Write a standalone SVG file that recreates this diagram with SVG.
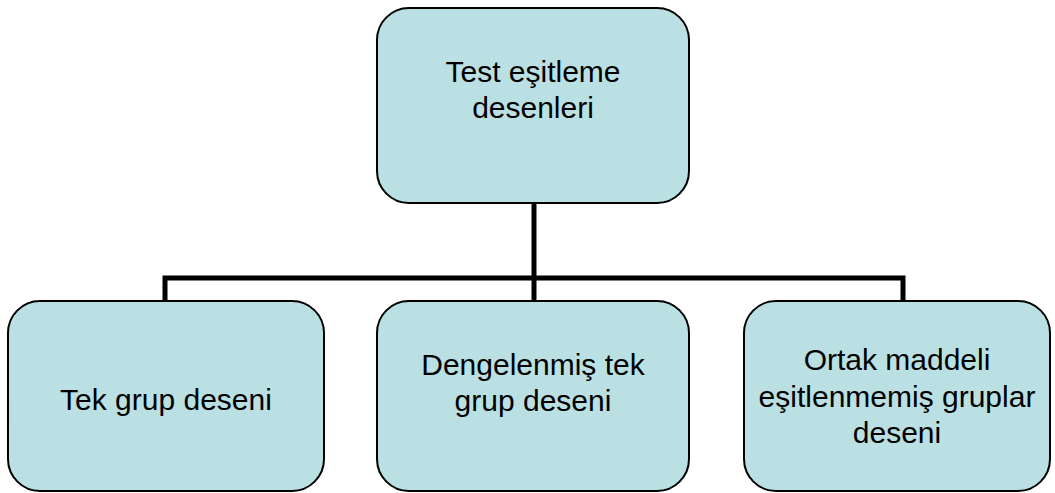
<svg xmlns="http://www.w3.org/2000/svg" width="1055" height="493" viewBox="0 0 1055 493">
<style>
.box{fill:#BAE0E3;stroke:#000;stroke-width:2}
.lbl{font-family:"Liberation Sans",Arial,sans-serif;font-size:30px;fill:#000;text-anchor:middle}
.con{fill:none;stroke:#000;stroke-width:5}
</style>
<rect width="1055" height="493" fill="#fff"/>
<g id="connectors">
<path class="con" d="M534 203 V280"/>
<path class="con" d="M165 301 V278 H903 V301"/>
<path class="con" d="M534 278 V301"/>
</g>
<g id="root">
<rect class="box" x="377" y="8" width="312" height="195" rx="32"/>
<text class="lbl" x="533" y="82">Test eşitleme</text>
<text class="lbl" x="533" y="118">desenleri</text>
</g>
<g id="n1">
<rect class="box" x="8" y="301" width="316" height="190" rx="32"/>
<text class="lbl" x="166" y="410">Tek grup deseni</text>
</g>
<g id="n2">
<rect class="box" x="377" y="301" width="312" height="190" rx="32"/>
<text class="lbl" x="533" y="375">Dengelenmiş tek</text>
<text class="lbl" x="533" y="411">grup deseni</text>
</g>
<g id="n3">
<rect class="box" x="744" y="301" width="306" height="190" rx="32"/>
<text class="lbl" x="897" y="370">Ortak maddeli</text>
<text class="lbl" x="897" y="407">eşitlenmemiş gruplar</text>
<text class="lbl" x="897" y="443">deseni</text>
</g>
</svg>
